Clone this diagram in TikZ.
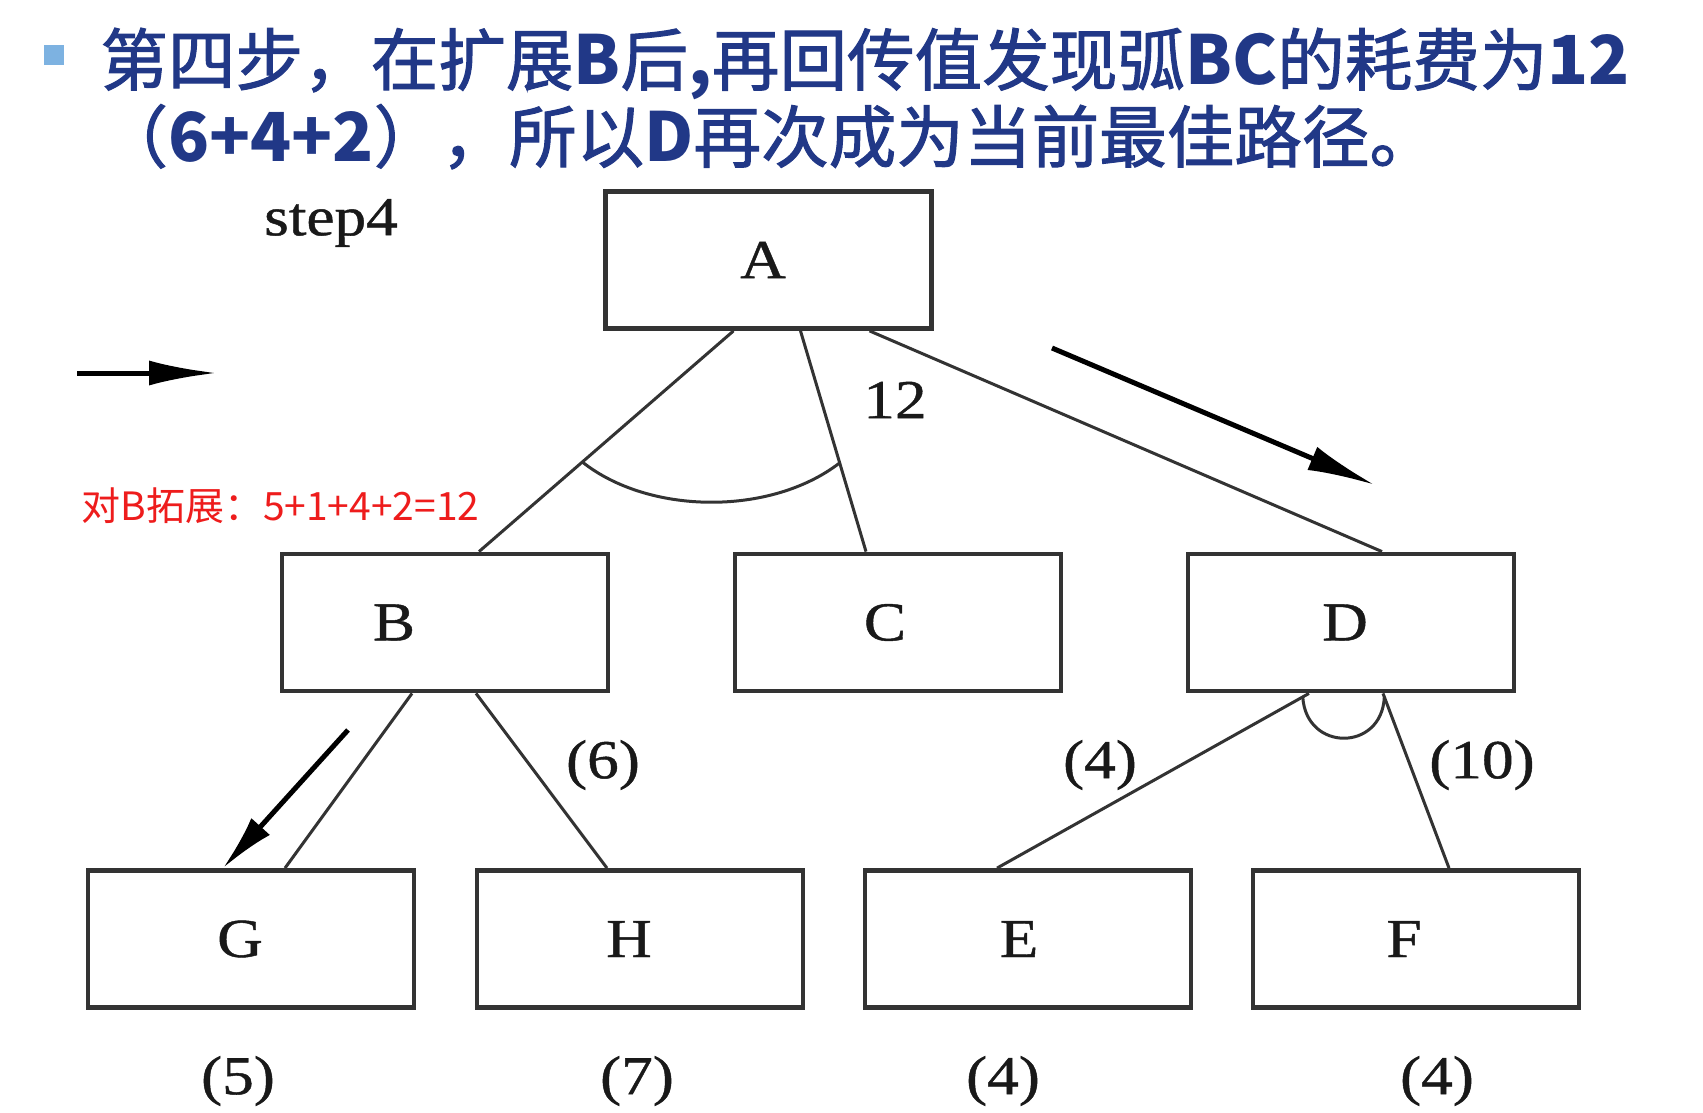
\documentclass[tikz,border=0pt]{standalone}
\usepackage{fontspec}
\usepackage{tikz}
\usetikzlibrary{calc,positioning,arrows.meta}
\newfontfamily\cjk{Noto Sans CJK SC}
\newfontfamily\cjkt{Noto Sans CJK SC}[FakeBold=1.5]
\newfontfamily\tms[FakeStretch=1.15,FakeBold=0.8]{Liberation Serif}
\newcommand{\latb}[1]{{\cjk\bfseries #1}}
\definecolor{titleblue}{RGB}{33,56,135}
\definecolor{bulletblue}{RGB}{125,178,225}
\definecolor{notered}{RGB}{238,28,28}

\begin{document}
\begin{tikzpicture}[x=0.5pt, y=-0.5pt,
	box/.style={draw=black!80, line width=2.4pt, rectangle, minimum width=163pt, minimum height=68.5pt, inner sep=0pt},
	lbl/.style={font=\tms\fontsize{27.5}{30}\selectfont, text=black!90, inner sep=0pt},
	edge/.style={draw=black!80, line width=1.5pt},
	hint/.style={draw=black, line width=2.5pt, -{Latex[length=34pt, width=12.5pt]}},
	titlestyle/.style={anchor=base west, inner sep=0pt, font=\cjkt\fontsize{33.8}{40}\selectfont, text=titleblue}]
	\path[use as bounding box, fill=white] (0,0) rectangle (1703,1113);

	\fill[bulletblue] (44,45) rectangle (64,65);
	\node[titlestyle] (title1) at (100,85) {第四步，在扩展\latb{B}后\latb{,}再回传值发现弧\latb{BC}的耗费为\latb{12}};
	\node[titlestyle] (title2) at (100,162) {（\latb{6+4+2}），所以\latb{D}再次成为当前最佳路径。};
	\node[lbl] (step) at (331,223) {step4};

	\node[box, label={[lbl, xshift=-2.75pt]center:A}] (A) at (768.5,260) {};
	\node[box, label={[lbl, xshift=-25.5pt]center:B}] (B) at (445,622.5) {};
	\node[box, right of=B, node distance=226.5pt, label={[lbl, xshift=-6.5pt]center:C}] (C) {};
	\node[box, right of=C, node distance=226.5pt, label={[lbl, xshift=-3pt]center:D}] (D) {};
	\node[box, label={[lbl, xshift=-5.5pt]center:G}] (G) at (251,939) {};
	\node[box, right of=G, node distance=194.5pt, label={[lbl, xshift=-5.5pt]center:H}] (H) {};
	\node[box, right of=H, node distance=194pt, label={[lbl, xshift=-4.5pt]center:E}] (E) {};
	\node[box, right of=E, node distance=194pt, label={[lbl, xshift=-6pt]center:F}] (F) {};

	\draw[edge] ($(A.south)+(-35,0)$) coordinate (ab1) -- ($(B.north)+(34,0)$) coordinate (ab2);
	\draw[edge] ($(A.south)+(32,0)$) coordinate (ac1) -- ($(C.north)+(-32,0)$) coordinate (ac2);
	\draw[edge] ($(A.south)+(101,0)$) -- ($(D.north)+(31,0)$);
	\draw[edge] ($(ab1)!0.594!(ab2)$) .. controls (649,515) and (771,516) .. ($(ac1)!0.598!(ac2)$);
	\draw[edge] ($(B.south)+(-33,0)$) -- ($(G.north)+(34,0)$);
	\draw[edge] ($(B.south)+(31,0)$) -- ($(H.north)+(-33,0)$);
	\draw[edge] ($(D.south)+(-42,0)$) coordinate (de1) -- ($(E.north)+(-31,0)$) coordinate (de2);
	\draw[edge] ($(D.south)+(32,0)$) coordinate (df1) -- ($(F.north)+(33,0)$) coordinate (df2);
	\draw[edge] ($(de1)!0.02!(de2)$) .. controls (1306,752) and (1382,752) .. ($(df1)!0.02!(df2)$);

	\node[lbl] (w12) at (895,400) {12};
	\node[lbl] (wbh) at (603,765) {(6)};
	\node[lbl] (wde) at (1100,765) {(4)};
	\node[lbl] (wdf) at (1482,765) {(10)};
	\node[lbl] (hg) at (238,1081) {(5)};
	\node[lbl] (hh) at (637,1081) {(7)};
	\node[lbl] (he) at (1003,1081) {(4)};
	\node[lbl] (hf) at (1437,1081) {(4)};

	\coordinate (go1) at (77,373);
	\coordinate (go2) at (217,373);
	\draw[hint] (go1) -- (go2);
	\coordinate (ad1) at (1052,348);
	\coordinate (ad2) at (1375,485);
	\draw[hint] (ad1) -- (ad2);
	\coordinate (bg1) at (348,730);
	\draw[hint, -{Latex[length=28pt, width=12.5pt]}] (bg1) -- ($(G.north)+(-28,0)$);

	\node[anchor=base west, inner sep=0pt, font=\cjk\fontsize{19.5}{22}\selectfont, text=notered] (note) at (81,520) {对B拓展：5+1+4+2=12};
\end{tikzpicture}
\end{document}
